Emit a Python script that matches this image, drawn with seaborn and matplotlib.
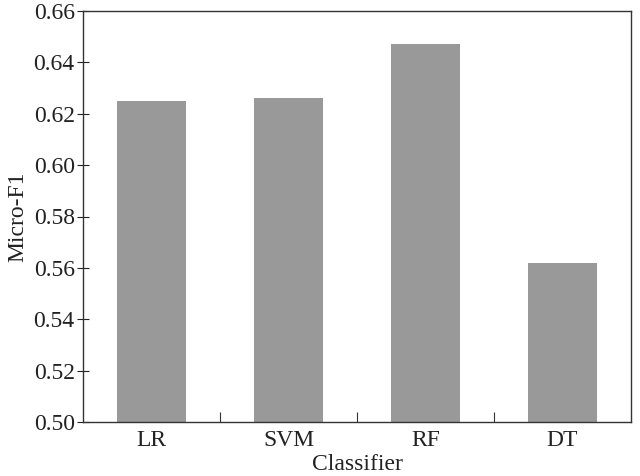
import matplotlib
matplotlib.use("Agg")
import matplotlib.pyplot as plt
from matplotlib import font_manager as fm
import seaborn as sns
import pandas as pd
from matplotlib.ticker import FixedLocator

classifiers = ["LR", "SVM", "RF", "DT"]
micro_f1 = [0.625, 0.626, 0.647, 0.562]
yticks = [0.50, 0.52, 0.54, 0.56, 0.58, 0.60, 0.62, 0.64, 0.66]

df = pd.DataFrame({"Classifier": classifiers, "Micro-F1": micro_f1})

# locate a Times-like font
serif_name = None
for f in fm.findSystemFonts():
    base = f.split("/")[-1].lower()
    if base.startswith("liberationserif-regular"):
        try:
            fm.fontManager.addfont(f)
            serif_name = fm.FontProperties(fname=f).get_name()
            break
        except Exception:
            pass

sns.set_theme(style="white")
fams = ([serif_name] if serif_name else []) + ["Liberation Serif", "DejaVu Serif"]
plt.rcParams["font.family"] = fams

fig = plt.figure(figsize=(6.4, 4.76), dpi=100)
ax = fig.add_axes([83/640, 1 - 422/476, 548/640, 411/476])
sns.barplot(data=df, x="Classifier", y="Micro-F1", color="#999999",
            saturation=1, width=0.5, ax=ax, edgecolor="none")
ax.set_ylim(0.50, 0.66)
ax.set_xlim(-0.5, 3.5)
ax.set_yticks(yticks)
ax.set_yticklabels([f"{v:.2f}" for v in yticks])
ax.xaxis.set_minor_locator(FixedLocator([0.5, 1.5, 2.5]))
ax.tick_params(axis="x", which="major", length=0, labelsize=17, pad=6, colors="#222222")
ax.tick_params(axis="x", which="minor", bottom=True, direction="in", length=7, width=0.8, color="#333333")
ax.tick_params(axis="y", which="major", left=True, direction="inout", length=8, width=0.8,
               labelsize=17, colors="#222222", pad=2)
ax.set_xlabel("Classifier", fontsize=17, labelpad=2, color="#222222")
ax.set_ylabel("Micro-F1", fontsize=17, labelpad=4, color="#222222")
for s in ax.spines.values():
    s.set_visible(True)
    s.set_color("#333333")
    s.set_linewidth(1.0)
fig.savefig("out.png", dpi=100, facecolor="white")
